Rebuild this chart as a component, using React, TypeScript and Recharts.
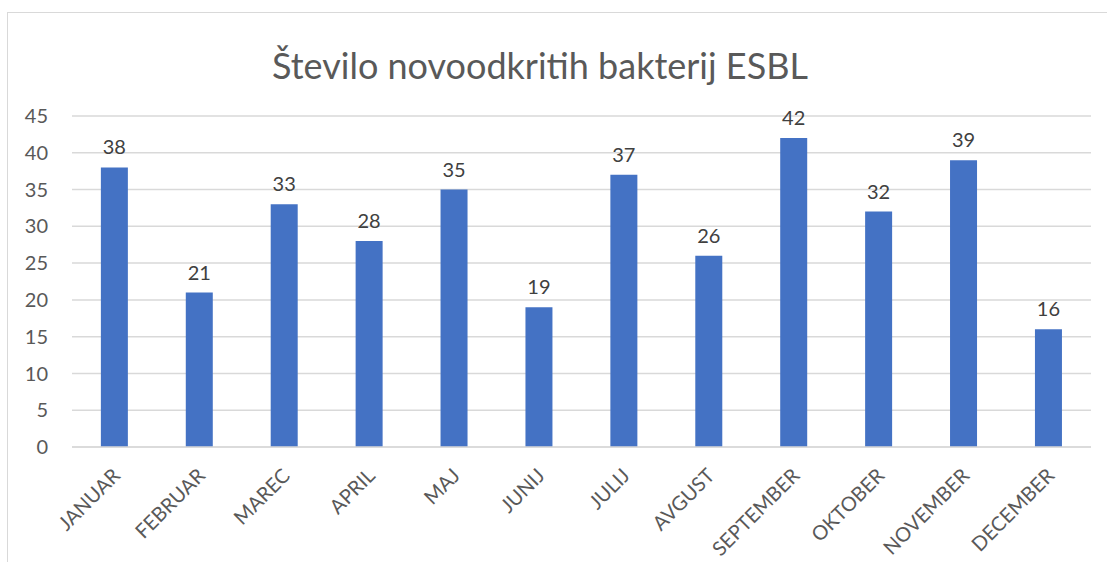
import { BarChart, Bar, XAxis, YAxis, CartesianGrid, LabelList } from 'recharts';

const months = ['JANUAR', 'FEBRUAR', 'MAREC', 'APRIL', 'MAJ', 'JUNIJ', 'JULIJ', 'AVGUST', 'SEPTEMBER', 'OKTOBER', 'NOVEMBER', 'DECEMBER'];
const counts = [38, 21, 33, 28, 35, 19, 37, 26, 42, 32, 39, 16];
const yTicks = [0, 5, 10, 15, 20, 25, 30, 35, 40, 45];

const data = months.map((m, i) => ({ month: m, value: counts[i] }));

const font = 'Lato, "Open Sans", sans-serif';

const MonthTick = (props: any) => {
  const { x, y, payload } = props;
  return (
    <g transform={`translate(${x + 7},${y + 22})`}>
      <text textAnchor="end" transform="rotate(-45)" fill="#595959" fontSize={20} fontFamily={font}>
        {payload.value}
      </text>
    </g>
  );
};

export default function App() {
  return (
    <div style={{ position: 'absolute', left: 0, top: 0, width: 1107, height: 562, overflow: 'hidden', background: '#fff' }}>
      <div style={{ position: 'absolute', left: 7, top: 12, width: 1200, height: 700, border: '1px solid #d9d9d9' }} />
      <div style={{ position: 'absolute', left: 0, top: 47, width: 1080, textAlign: 'center', fontFamily: font, fontSize: 36, lineHeight: 1, color: '#595959' }}>
        Število novoodkritih bakterij ESBL
      </div>
      <div style={{ position: 'absolute', left: 0, top: 0 }}>
        <BarChart width={1107} height={562} data={data} margin={{ top: 116, right: 16, bottom: 85, left: 0 }} barCategoryGap="34%">
          <CartesianGrid vertical={false} stroke="#d9d9d9" strokeWidth={1.5} />
          <XAxis dataKey="month" interval={0} tickLine={false} axisLine={{ stroke: '#d9d9d9', strokeWidth: 1.5 }} tick={<MonthTick />} />
          <YAxis width={72} domain={[0, 45]} ticks={yTicks} tickLine={false} axisLine={false} tickSize={0} tickMargin={24}
            tick={{ fill: '#595959', fontSize: 20, fontFamily: font }} />
          <Bar dataKey="value" fill="#4472c4" isAnimationActive={false}>
            <LabelList dataKey="value" position="top" offset={13} fill="#404040" fontSize={20} fontFamily={font} />
          </Bar>
        </BarChart>
      </div>
    </div>
  );
}
